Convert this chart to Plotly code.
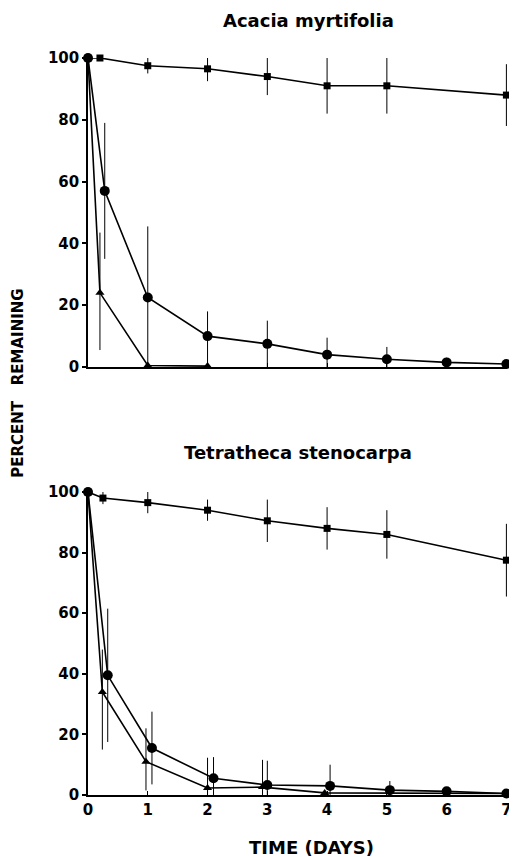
import plotly.graph_objects as go

# ---- Data: Acacia myrtifolia (top panel) ----
a_sq_x = [0, 0.2, 1, 2, 3, 4, 5, 7]
a_sq_y = [100, 100, 97.5, 96.5, 94, 91, 91, 88]
a_sq_err = [0, 0, 2.5, 4, 6, 9, 9, 10]

a_ci_x = [0, 0.28, 1, 2, 3, 4, 5, 6, 7]
a_ci_y = [100, 57, 22.5, 10, 7.5, 4, 2.5, 1.5, 1]
a_ci_err_plus = [0, 22, 23, 8, 7.5, 5.5, 4, 1.5, 0]
a_ci_err_minus = [0, 22, 22.5, 10, 7.5, 4, 2.5, 1.5, 0]

a_tr_x = [0, 0.2, 1, 2]
a_tr_y = [100, 24, 0.5, 0.3]
a_tr_err_plus = [0, 19.5, 0, 0]
a_tr_err_minus = [0, 18.5, 0, 0]

# ---- Data: Tetratheca stenocarpa (bottom panel) ----
t_sq_x = [0, 0.25, 1, 2, 3, 4, 5, 7]
t_sq_y = [100, 98, 96.5, 94, 90.5, 88, 86, 77.5]
t_sq_err = [0, 2, 3.5, 3.5, 7, 7, 8, 12]

t_ci_x = [0, 0.33, 1.07, 2.1, 3, 4.05, 5.05, 6, 7]
t_ci_y = [100, 39.5, 15.5, 5.5, 3.3, 3, 1.6, 1.2, 0.5]
t_ci_err_plus = [0, 22, 12, 7, 8, 7, 3, 1, 0]
t_ci_err_minus = [0, 22, 12, 5.5, 3.3, 3, 1.6, 1.2, 0.5]

t_tr_x = [0, 0.24, 0.97, 2, 2.92, 3.96, 7]
t_tr_y = [100, 34, 11, 2.3, 2.6, 0.7, 0.5]
t_tr_err_plus = [0, 14, 11, 10, 9, 0, 0]
t_tr_err_minus = [0, 19, 9.5, 2.3, 2.6, 0.7, 0.5]

x_ticks = [0, 1, 2, 3, 4, 5, 6, 7]
y_ticks = [0, 20, 40, 60, 80, 100]

titles = ["Acacia myrtifolia", "Tetratheca stenocarpa"]
x_title = "TIME (DAYS)"
y_title = "PERCENT\u00a0\u00a0\u00a0REMAINING"

FONT = "DejaVu Sans, Liberation Sans, Arial, sans-serif"
BLACK = "#000000"

fig = go.Figure()


def add_series(x, y, ep, em, symbol, size, xa, ya):
    fig.add_trace(go.Scatter(
        x=x, y=y, mode="lines+markers",
        xaxis=xa, yaxis=ya,
        line=dict(color=BLACK, width=1.6),
        marker=dict(symbol=symbol, size=size, color=BLACK),
        error_y=dict(type="data", symmetric=False, array=ep, arrayminus=em,
                     color=BLACK, thickness=1, width=0),
        cliponaxis=False, showlegend=False, hoverinfo="x+y",
    ))


add_series(a_sq_x, a_sq_y, a_sq_err, a_sq_err, "square", 7, "x", "y")
add_series(a_ci_x, a_ci_y, a_ci_err_plus, a_ci_err_minus, "circle", 10, "x", "y")
add_series(a_tr_x, a_tr_y, a_tr_err_plus, a_tr_err_minus, "triangle-up", 8, "x", "y")

add_series(t_sq_x, t_sq_y, t_sq_err, t_sq_err, "square", 7, "x2", "y2")
add_series(t_ci_x, t_ci_y, t_ci_err_plus, t_ci_err_minus, "circle", 10, "x2", "y2")
add_series(t_tr_x, t_tr_y, t_tr_err_plus, t_tr_err_minus, "triangle-up", 8, "x2", "y2")

tickfont = dict(family=FONT, size=15, color=BLACK, weight="bold")

xcommon = dict(range=[0, 7.01], showline=True, linecolor=BLACK, linewidth=1.6,
               showgrid=False, zeroline=False, tickvals=x_ticks,
               ticks="inside", ticklen=4, tickcolor=BLACK, tickwidth=1,
               tickfont=tickfont, fixedrange=True)
ycommon = dict(range=[0, 100], showline=True, linecolor=BLACK, linewidth=1.6,
               showgrid=False, zeroline=False, tickvals=y_ticks,
               ticks="outside", ticklen=4, tickcolor=BLACK, tickwidth=1.6,
               tickfont=tickfont, fixedrange=True)

fig.update_layout(
    width=509, height=849,
    margin=dict(l=80, r=5, t=50, b=62),
    plot_bgcolor="white", paper_bgcolor="white",
    xaxis=dict(**xcommon, domain=[0, 1], anchor="y", showticklabels=False),
    yaxis=dict(**ycommon, domain=[0.5807, 1.0], anchor="x"),
    xaxis2=dict(**xcommon, domain=[0, 1], anchor="y2", showticklabels=True),
    yaxis2=dict(**ycommon, domain=[0.0, 0.4111], anchor="x2"),
    annotations=[
        dict(text=titles[0], xref="paper", yref="paper", x=0.526, y=1.0, yshift=38,
             showarrow=False, xanchor="center", yanchor="middle",
             font=dict(family=FONT, size=18, color=BLACK, weight="bold")),
        dict(text=titles[1], xref="paper", yref="paper", x=0.502, y=0.4111, yshift=40,
             showarrow=False, xanchor="center", yanchor="middle",
             font=dict(family=FONT, size=18, color=BLACK, weight="bold")),
        dict(text=x_title, xref="paper", yref="paper", x=0.533, y=0, yshift=-52,
             showarrow=False, xanchor="center", yanchor="middle",
             font=dict(family=FONT, size=18, color=BLACK, weight="bold")),
        dict(text=y_title, xref="paper", yref="paper", x=0, xshift=-70, y=0.558,
             showarrow=False, xanchor="center", yanchor="middle", textangle=-90,
             font=dict(family=FONT, size=15, color=BLACK, weight="bold")),
    ],
)

fig.write_html("out.html")
